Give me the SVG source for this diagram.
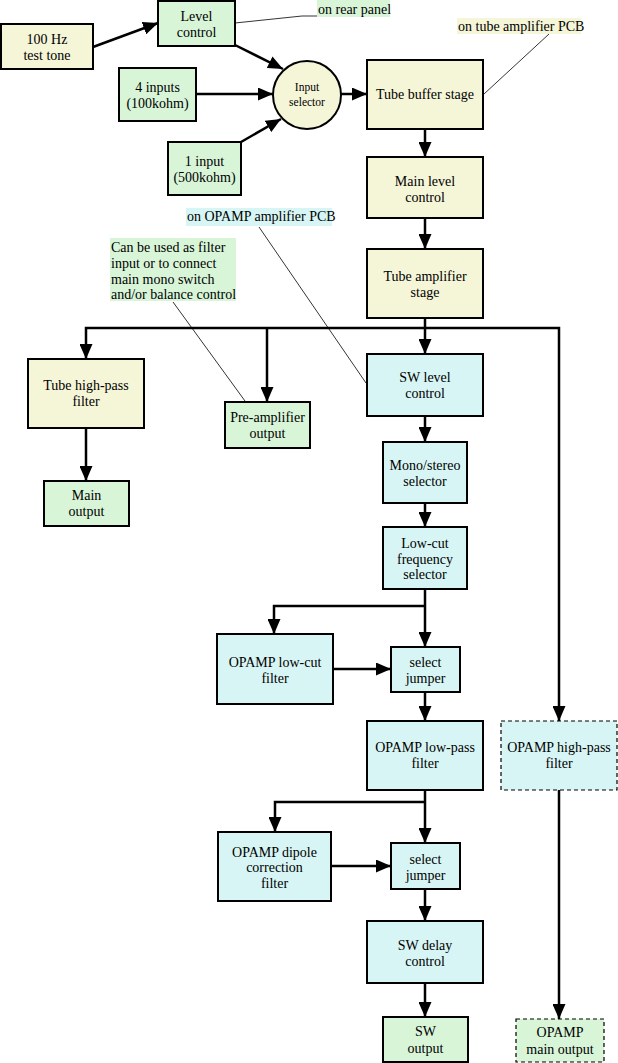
<svg xmlns="http://www.w3.org/2000/svg" width="618" height="1063" viewBox="0 0 618 1063" font-family="'Liberation Serif', serif" font-size="14">
<defs>
<style>
.y{fill:#f5f5d8;stroke:#000;stroke-width:2}
.g{fill:#d8f5d8;stroke:#000;stroke-width:2}
.c{fill:#d8f5f5;stroke:#000;stroke-width:2}
.d{stroke-dasharray:4,3;stroke-width:1.2}
.m{font-family:'Liberation Serif',serif;font-size:14px;fill:#000;text-anchor:middle}
.n{font-family:'Liberation Serif',serif;font-size:14px;fill:#000}
.s{font-size:11.5px}
.e{fill:none;stroke:#000;stroke-width:2.5}
.a{marker-end:url(#ah)}
.l{fill:none;stroke:#000;stroke-width:0.8}
</style>
<marker id="ah" markerUnits="userSpaceOnUse" markerWidth="15" markerHeight="13" refX="15" refY="6.5" orient="auto">
<path d="M0,0 L15,6.5 L0,13 z" fill="#000"/>
</marker>
</defs>
<rect width="618" height="1063" fill="#fff"/>
<g id="labels">
<rect x="317" y="0" width="73" height="17" fill="#d8f5d8"/>
<text class="n" x="318" y="14">on rear panel</text>
<polyline class="l" points="235,23 302,16 317,16"/>
<rect x="457" y="18" width="124" height="16" fill="#f5f5d8"/>
<text class="n" x="458" y="31">on tube amplifier PCB</text>
<line class="l" x1="549" y1="34" x2="484" y2="94"/>
<rect x="186" y="208" width="146" height="18" fill="#d8f5f5"/>
<text class="n" x="187" y="221">on OPAMP amplifier PCB</text>
<line class="l" x1="259" y1="227" x2="366" y2="383"/>
<rect x="110" y="238" width="126" height="63" fill="#d8f5d8"/>
<text class="n" x="111" y="252">Can be used as filter</text>
<text class="n" x="111" y="268">input or to connect</text>
<text class="n" x="111" y="284">main mono switch</text>
<text class="n" x="111" y="299">and/or balance control</text>
<line class="l" x1="173" y1="302" x2="245" y2="401"/>
</g>

<g id="connectors">
<line class="e a" x1="93" y1="47" x2="158" y2="23"/>
<line class="e a" x1="235" y1="45" x2="283" y2="69"/>
<line class="e a" x1="196" y1="94" x2="273" y2="94"/>
<line class="e a" x1="241" y1="142" x2="281" y2="119"/>
<line class="e a" x1="341" y1="94" x2="367" y2="94"/>
<line class="e a" x1="425" y1="129" x2="425" y2="157"/>
<line class="e a" x1="425" y1="218" x2="425" y2="249"/>
<line class="e a" x1="425" y1="318" x2="425" y2="354"/>
<polyline class="e a" points="425,328 86,328 86,359"/>
<line class="e a" x1="267" y1="328" x2="267" y2="402"/>
<polyline class="e a" points="425,328 559,328 559,721"/>
<line class="e a" x1="86" y1="428" x2="86" y2="481"/>
<line class="e a" x1="425" y1="416" x2="425" y2="442"/>
<line class="e a" x1="425" y1="503" x2="425" y2="527"/>
<line class="e a" x1="425" y1="589" x2="425" y2="647"/>
<polyline class="e a" points="425,606 274,606 274,634"/>
<line class="e a" x1="333" y1="669" x2="391" y2="669"/>
<line class="e a" x1="425" y1="692" x2="425" y2="721"/>
<line class="e a" x1="425" y1="790" x2="425" y2="843"/>
<polyline class="e a" points="425,802 275,802 275,832"/>
<line class="e a" x1="331" y1="866" x2="391" y2="866"/>
<line class="e a" x1="425" y1="889" x2="425" y2="921"/>
<line class="e a" x1="425" y1="983" x2="425" y2="1017"/>
<line class="e a" x1="559" y1="790" x2="559" y2="1019"/>
</g>

<g id="test-tone"><rect class="y" x="1" y="24" width="92" height="45"/><text class="m" x="47" y="44">100 Hz</text><text class="m" x="47" y="60">test tone</text></g>
<g id="level-control"><rect class="g" x="158" y="1" width="77" height="45"/><text class="m" x="196.5" y="21">Level</text><text class="m" x="196.5" y="37">control</text></g>
<g id="four-inputs"><rect class="g" x="119" y="68" width="77" height="53"/><text class="m" x="157.5" y="92">4 inputs</text><text class="m" x="157.5" y="108">(100kohm)</text></g>
<g id="one-input"><rect class="g" x="168" y="142" width="73" height="53"/><text class="m" x="204.5" y="166">1 input</text><text class="m" x="204.5" y="182">(500kohm)</text></g>
<g id="input-selector"><circle class="y" cx="307" cy="95" r="34"/><text class="m s" x="307" y="91">Input</text><text class="m s" x="307" y="106">selector</text></g>
<g id="tube-buffer"><rect class="y" x="367" y="60" width="116" height="69"/><text class="m" x="425" y="99">Tube buffer stage</text></g>
<g id="main-level"><rect class="y" x="367" y="157" width="116" height="61"/><text class="m" x="425" y="186">Main level</text><text class="m" x="425" y="202">control</text></g>
<g id="tube-amp"><rect class="y" x="367" y="249" width="116" height="69"/><text class="m" x="425" y="281">Tube amplifier</text><text class="m" x="425" y="297">stage</text></g>
<g id="tube-highpass"><rect class="y" x="28" y="359" width="116" height="69"/><text class="m" x="86" y="390">Tube high-pass</text><text class="m" x="86" y="406">filter</text></g>
<g id="main-output"><rect class="g" x="44" y="481" width="85" height="45"/><text class="m" x="86.5" y="500">Main</text><text class="m" x="86.5" y="516">output</text></g>
<g id="preamp-output"><rect class="g" x="225" y="402" width="85" height="46"/><text class="m" x="267.5" y="422">Pre-amplifier</text><text class="m" x="267.5" y="438">output</text></g>
<g id="sw-level"><rect class="c" x="367" y="354" width="116" height="62"/><text class="m" x="425" y="382">SW level</text><text class="m" x="425" y="398">control</text></g>
<g id="mono-stereo"><rect class="c" x="383" y="442" width="84" height="61"/><text class="m" x="425" y="470">Mono/stereo</text><text class="m" x="425" y="486">selector</text></g>
<g id="lowcut-selector"><rect class="c" x="383" y="527" width="84" height="62"/><text class="m" x="425" y="548">Low-cut</text><text class="m" x="425" y="564">frequency</text><text class="m" x="425" y="579">selector</text></g>
<g id="opamp-lowcut"><rect class="c" x="217" y="634" width="116" height="70"/><text class="m" x="275" y="667">OPAMP low-cut</text><text class="m" x="275" y="683">filter</text></g>
<g id="select-jumper-1"><rect class="c" x="391" y="647" width="69" height="45"/><text class="m" x="425.5" y="667">select</text><text class="m" x="425.5" y="683">jumper</text></g>
<g id="opamp-lowpass"><rect class="c" x="367" y="721" width="116" height="69"/><text class="m" x="425" y="752">OPAMP low-pass</text><text class="m" x="425" y="768">filter</text></g>
<g id="opamp-highpass"><rect class="c d" x="501" y="721" width="116" height="69"/><text class="m" x="559" y="752">OPAMP high-pass</text><text class="m" x="559" y="768">filter</text></g>
<g id="opamp-dipole"><rect class="c" x="218" y="832" width="113" height="69"/><text class="m" x="274.5" y="857">OPAMP dipole</text><text class="m" x="274.5" y="872">correction</text><text class="m" x="274.5" y="888">filter</text></g>
<g id="select-jumper-2"><rect class="c" x="391" y="843" width="69" height="46"/><text class="m" x="425.5" y="864">select</text><text class="m" x="425.5" y="880">jumper</text></g>
<g id="sw-delay"><rect class="c" x="367" y="921" width="116" height="62"/><text class="m" x="425" y="950">SW delay</text><text class="m" x="425" y="966">control</text></g>
<g id="sw-output"><rect class="g" x="383" y="1017" width="85" height="45"/><text class="m" x="425.5" y="1036">SW</text><text class="m" x="425.5" y="1053">output</text></g>
<g id="opamp-main-output"><rect class="g d" x="516" y="1019" width="88" height="43"/><text class="m" x="560" y="1037">OPAMP</text><text class="m" x="560" y="1054">main output</text></g>
</svg>
